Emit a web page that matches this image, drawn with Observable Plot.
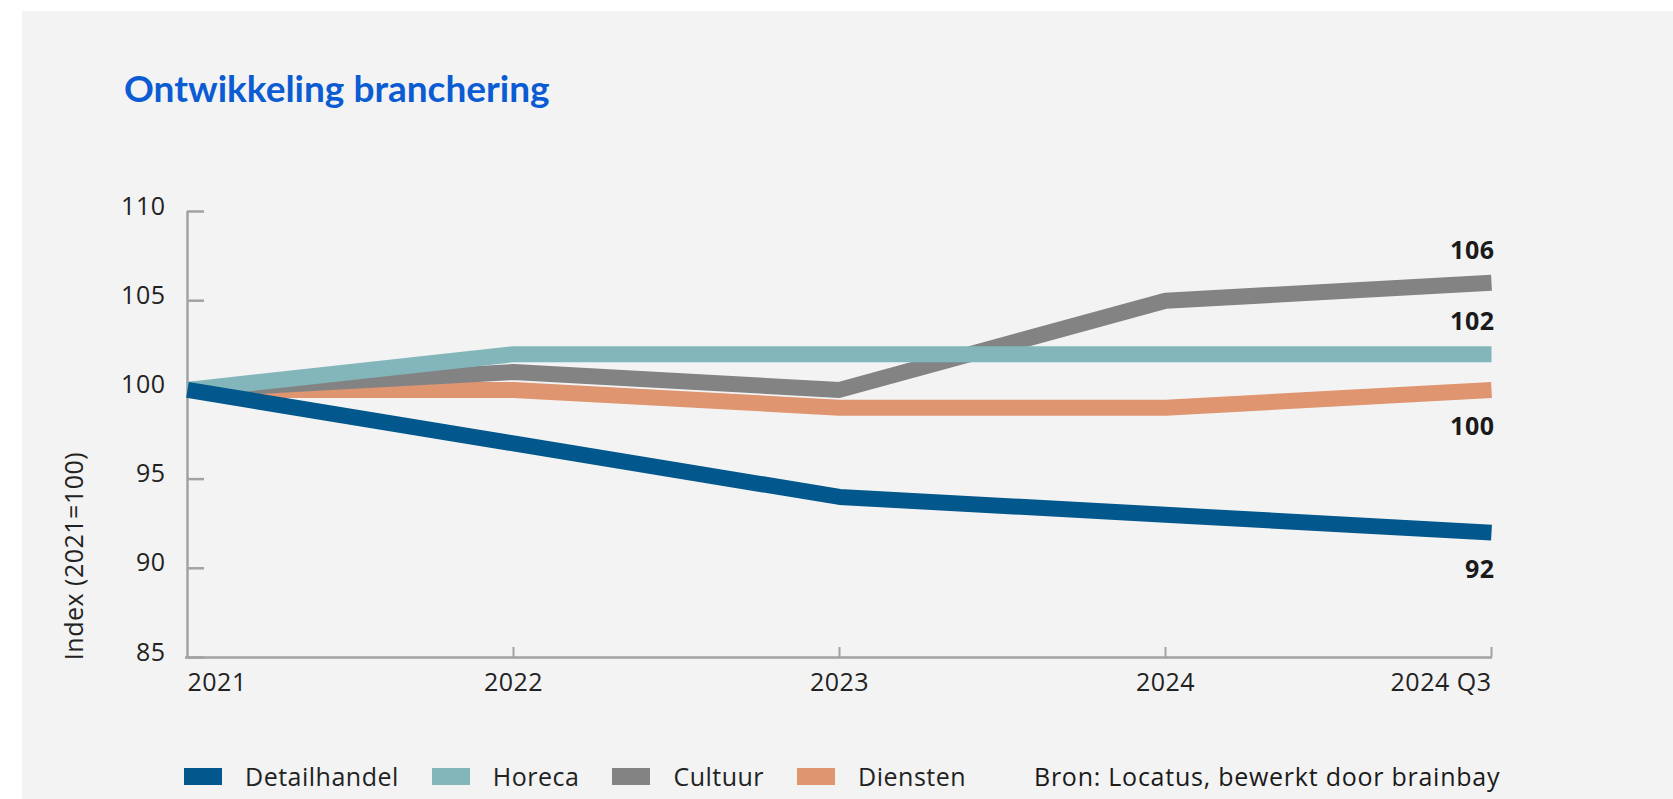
<!DOCTYPE html>
<html>
<head>
<meta charset="utf-8">
<script src="https://cdn.jsdelivr.net/npm/d3@7"></script>
<script src="https://cdn.jsdelivr.net/npm/@observablehq/plot@0.6"></script>
<style>
  html, body { margin: 0; padding: 0; background: #ffffff; overflow: hidden; }
  #page { position: relative; width: 1673px; height: 799px; }
  #panel { position: absolute; left: 22px; top: 11px; right: 0; bottom: 0; background: #f3f3f3; }
  #title { position: absolute; left: 124px; top: 65px; font-family: Lato, sans-serif; font-weight: 700;
           font-size: 37px; line-height: normal; color: #0b5bd3; white-space: nowrap; }
  #chart { position: absolute; left: 0; top: 0; }
  #ylabel { position: absolute; left: 73px; top: 556px; transform: translate(-50%, -50%) rotate(-90deg);
            font-family: "Open Sans", sans-serif; font-size: 25px; letter-spacing: 0.5px; color: #222; white-space: nowrap; }
  #legend { position: absolute; left: 184px; top: 760px; height: 32px; display: flex; align-items: center;
            font-family: "Open Sans", sans-serif; font-size: 25px; letter-spacing: 0.5px; color: #222; white-space: nowrap; }
  .sw { width: 38px; height: 17px; margin-right: 23px; }
  .lb { margin-right: 33px; }
  #source { position: absolute; left: 1034px; top: 760px; height: 32px; display: flex; align-items: center;
            font-family: "Open Sans", sans-serif; font-size: 25px; letter-spacing: 0.75px; color: #1a1a1a; white-space: nowrap; }
</style>
</head>
<body>
<div id="page">
  <div id="panel"></div>
  <div id="title"></div>
  <div id="chart"></div>
  <div id="ylabel"></div>
  <div id="legend"></div>
  <div id="source"></div>
</div>
<script>
// ---- data ----
const categories = ["2021", "2022", "2023", "2024", "2024 Q3"];
const series = ["Detailhandel", "Horeca", "Cultuur", "Diensten"];
const detailhandel = [100, 97, 94, 93, 92];
const horeca = [100, 102, 102, 102, 102];
const cultuur = [100, 101, 100, 105, 106];
const diensten = [100, 100, 99, 99, 100];
const yTicks = [85, 90, 95, 100, 105, 110];
const titleText = "Ontwikkeling branchering";
const yLabel = "Index (2021=100)";
const sourceText = "Bron: Locatus, bewerkt door brainbay";

// ---- styling config ----
const colors = ["#02578c", "#82b6bb", "#838383", "#de9570"];
const drawOrder = ["Diensten", "Cultuur", "Horeca", "Detailhandel"];
const labelAbove = ["Horeca", "Cultuur"];
const axisColor = "#a2a2a2";

const valuesBySeries = {
  "Detailhandel": detailhandel,
  "Horeca": horeca,
  "Cultuur": cultuur,
  "Diensten": diensten
};

const table = [];
for (const s of drawOrder) {
  valuesBySeries[s].forEach((v, i) => table.push({series: s, cat: categories[i], value: v}));
}
const first = categories[0];
const last = categories[categories.length - 1];
const endRows = table.filter(d => d.cat === last);

document.getElementById("title").textContent = titleText;
document.getElementById("ylabel").textContent = yLabel;
document.getElementById("source").textContent = sourceText;

const chart = Plot.plot({
  width: 1673,
  height: 720,
  marginLeft: 185,
  marginRight: 181,
  marginTop: 211,
  marginBottom: 63,
  style: {background: "transparent", fontFamily: "'Open Sans', sans-serif", fontSize: "25px", letterSpacing: "0.5px", color: "#222"},
  x: {type: "point", domain: categories, padding: 0, axis: null},
  y: {domain: [85, 110], axis: null},
  color: {domain: series, range: colors},
  marks: [
    // axes lines and ticks
    Plot.ruleX([first], {x: d => d, stroke: axisColor, strokeWidth: 2.5}),
    Plot.ruleY([85], {y: d => d, stroke: axisColor, strokeWidth: 2.5}),
    Plot.ruleY(yTicks, {y: d => d, x1: () => first, x2: () => first, insetRight: -17, stroke: axisColor, strokeWidth: 2.5}),
    Plot.ruleX(categories.slice(1), {x: d => d, y1: () => 85, y2: () => 85, insetTop: -10, stroke: axisColor, strokeWidth: 2}),
    // y tick labels
    Plot.text(yTicks, {x: () => first, y: d => d, text: d => String(d), textAnchor: "end", dx: -22, dy: -5, fill: "#222"}),
    // x tick labels
    Plot.text([first], {x: d => d, frameAnchor: "bottom", text: d => d, textAnchor: "start", dy: 33, fill: "#222"}),
    Plot.text(categories.slice(1, -1), {x: d => d, frameAnchor: "bottom", text: d => d, textAnchor: "middle", dy: 33, fill: "#222"}),
    Plot.text([last], {x: d => d, frameAnchor: "bottom", text: d => d, textAnchor: "end", dy: 33, fill: "#222"}),
    // lines
    Plot.line(table, {x: "cat", y: "value", z: "series", stroke: "series", strokeWidth: 16,
                      strokeLinecap: "butt", strokeLinejoin: "miter"}),
    // end labels
    Plot.text(endRows.filter(d => labelAbove.includes(d.series)),
      {x: "cat", y: "value", text: d => String(d.value), textAnchor: "end", dx: 3, dy: -32, fontWeight: 700, fill: "#1a1a1a"}),
    Plot.text(endRows.filter(d => !labelAbove.includes(d.series)),
      {x: "cat", y: "value", text: d => String(d.value), textAnchor: "end", dx: 3, dy: 37, fontWeight: 700, fill: "#1a1a1a"})
  ]
});
document.getElementById("chart").appendChild(chart);

// legend
const legend = document.getElementById("legend");
series.forEach((s, i) => {
  const sw = document.createElement("div");
  sw.className = "sw";
  sw.style.background = colors[i];
  const lb = document.createElement("div");
  lb.className = "lb";
  lb.textContent = s;
  legend.appendChild(sw);
  legend.appendChild(lb);
});
</script>
</body>
</html>
